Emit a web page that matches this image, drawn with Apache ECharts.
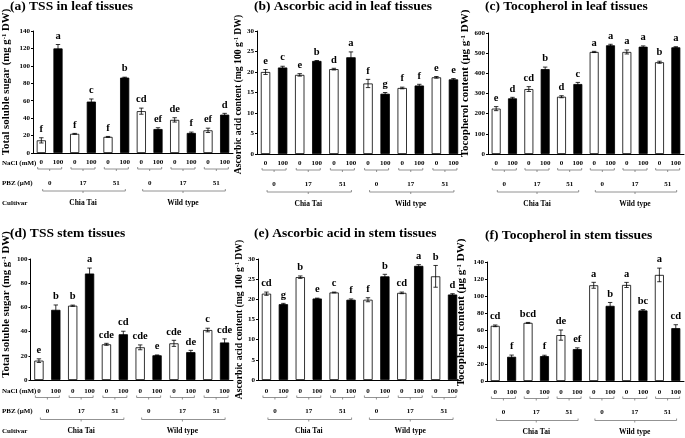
<!DOCTYPE html>
<html><head><meta charset="utf-8">
<script src="https://cdn.jsdelivr.net/npm/echarts@6/dist/echarts.min.js"></script>
<style>html,body{margin:0;padding:0;background:#fff}#c{width:685px;height:438px}</style>
</head><body><div id="c"></div>
<script>
// ---- data ----
const naclLabels = ['0','100','0','100','0','100','0','100','0','100','0','100'];
const pbzLabels = ['0','17','51','0','17','51'];
const cultivars = ['Chia Tai','Wild type'];
const titles = ['(a) TSS in leaf tissues','(b) Ascorbic acid in leaf tissues','(c) Tocopherol in leaf tissues',
                '(d) TSS stem tissues','(e) Ascorbic acid in stem tissues','(f) Tocopherol in stem tissues'];
const yNames = ['Total soluble sugar (mg g{s|-1} DW)','Ascorbic acid content (mg 100 g{s|-1} DW)','Tocopherol content (µg g{s|-1} DW)',
                'Total soluble sugar (mg g{s|-1} DW)','Ascorbic acid content (mg 100 g{s|-1} DW)','Tocopherol content (µg g{s|-1} DW)'];
const yMax = [140, 30, 600, 100, 30, 140];
const yStep = [20, 5, 100, 20, 5, 20];

// order: Chia Tai PBZ0 (NaCl0, NaCl100), PBZ17, PBZ51, Wild type PBZ0, PBZ17, PBZ51
const tssLeaf     = [14.5, 120, 22, 59, 18.5, 86.5, 48, 27.5, 38, 23, 26, 44];
const tssLeafErr  = [3, 4.5, 0.5, 3, 0.5, 0.5, 3.5, 1.5, 2.5, 1, 2.5, 1.5];
const tssLeafLet  = ['f','a','f','c','f','b','cd','ef','de','f','ef','d'];

const ascLeaf     = [20.0, 21.1, 19.3, 22.7, 20.7, 23.6, 17.2, 14.7, 16.1, 16.7, 18.7, 18.2];
const ascLeafErr  = [0.6, 0.3, 0.3, 0.1, 0.2, 1.3, 1.0, 0.3, 0.2, 0.3, 0.2, 0.2];
const ascLeafLet  = ['e','c','e','b','d','a','f','g','f','f','e','e'];

const tocLeaf     = [225, 276, 322, 421, 284, 347, 506, 539, 506, 532, 455, 529];
const tocLeafErr  = [10, 5, 12, 10, 5, 8, 3, 5, 10, 4, 5, 3];
const tocLeafLet  = ['e','d','cd','b','d','c','a','a','a','a','b','a'];

const tssStem     = [16, 58, 61.4, 88, 29.5, 37.8, 27, 20.4, 30.3, 23, 41.3, 31];
const tssStemErr  = [1.5, 4, 0.5, 4.5, 0.8, 2.5, 2, 0.3, 2.5, 1.5, 1.5, 3];
const tssStemLet  = ['e','b','b','a','cde','cd','cde','e','cde','de','c','cde'];

const ascStem     = [21.4, 18.8, 25.5, 20.2, 21.7, 19.9, 19.9, 25.7, 21.6, 28.3, 25.7, 21.2];
const ascStemErr  = [0.4, 0.2, 0.3, 0.1, 0.1, 0.2, 0.5, 0.5, 0.2, 0.3, 2.7, 0.2];
const ascStemLet  = ['cd','g','b','e','c','f','f','b','cd','a','b','d'];

const tocStem     = [64.9, 28.5, 68.4, 29.3, 54, 37.5, 112.6, 88.4, 113, 83, 124.8, 62.2];
const tocStemErr  = [1, 2, 0.5, 1, 6, 1.5, 3.5, 4, 3, 1, 8, 4];
const tocStemLet  = ['cd','f','bcd','f','de','ef','a','b','a','bc','a','cd'];

const values  = [tssLeaf, ascLeaf, tocLeaf, tssStem, ascStem, tocStem];
const errs    = [tssLeafErr, ascLeafErr, tocLeafErr, tssStemErr, ascStemErr, tocStemErr];
const letters = [tssLeafLet, ascLeafLet, tocLeafLet, tssStemLet, ascStemLet, tocStemLet];

// ---- layout ----
const grids = [
  {left: 33, top: 31, width: 200, height: 122},
  {left: 257, top: 31, width: 205, height: 123},
  {left: 488, top: 33, width: 196, height: 121},
  {left: 30, top: 259, width: 203, height: 121},
  {left: 258, top: 259, width: 203, height: 121},
  {left: 487, top: 262, width: 197, height: 119}
];
const nameFs   = [10.8, 9.7, 11, 10.8, 9.7, 11];
const nameGaps = [21, 14, 17, 18.5, 14, 20.5];
const nameShift = [20, -4, 20, 30, 0, 18];
const titlePos = [{l:10,t:0},{l:254,t:0},{l:485,t:0},{l:10,t:227},{l:254,t:227},{l:485,t:229}];
const FF = '"Liberation Serif","Times New Roman",serif';

const option = {
  backgroundColor: '#fff',
  animation: false,
  title: titles.map((t,i)=>({text:t, left:titlePos[i].l, top:titlePos[i].t, padding:0,
    textStyle:{fontFamily:FF, fontWeight:'bold', fontSize:13.5, color:'#000'}})),
  grid: grids,
  xAxis: grids.map((g,i)=>({gridIndex:i, type:'category', data:naclLabels,
    axisLine:{lineStyle:{color:'#000', width:1}}, axisTick:{show:false},
    axisLabel:{interval:0, margin: i<3?6:8, fontFamily:FF, fontWeight:'bold', fontSize:7, color:'#000'}})),
  yAxis: grids.map((g,i)=>({gridIndex:i, type:'value', min:0, max:yMax[i], interval:yStep[i],
    name: yNames[i], nameLocation:'middle', nameGap:nameGaps[i],
    nameTextStyle:{fontFamily:FF, fontWeight:'bold', fontSize:nameFs[i], color:'#000',
      padding: nameShift[i] >= 0 ? [0,0,0,nameShift[i]] : [0,-nameShift[i],0,0],
      rich:{s:{fontFamily:FF, fontWeight:'bold', fontSize:nameFs[i]*0.62, verticalAlign:'top', color:'#000'}}},
    axisLine:{show:true, lineStyle:{color:'#000', width:1}},
    axisTick:{show:true, length:2, lineStyle:{color:'#000'}},
    splitLine:{show:false},
    axisLabel:{margin:3, fontFamily:FF, fontWeight:'bold', fontSize:7, color:'#000'}})),
  series: []
};

function errRender(gi){
  return function(params, api){
    const x = api.value(0), v = api.value(1), e = api.value(2);
    const top = api.coord([x, v+e]), bot = api.coord([x, Math.max(0, v-e)]);
    const w = 2.2;
    const st = {stroke:'#000', lineWidth:0.8};
    return {type:'group', children:[
      {type:'line', shape:{x1:top[0], y1:top[1], x2:bot[0], y2:bot[1]}, style:st},
      {type:'line', shape:{x1:top[0]-w, y1:top[1], x2:top[0]+w, y2:top[1]}, style:st},
      {type:'line', shape:{x1:bot[0]-w, y1:bot[1], x2:bot[0]+w, y2:bot[1]}, style:st},
      {type:'text', style:{text:letters[gi][params.dataIndex], x:top[0], y:top[1]-3,
        align:'center', verticalAlign:'bottom', font:'bold 10.5px ' + FF, fill:'#000'}}
    ]};
  };
}

function annotRender(gi){
  const bottomRow = gi >= 3;
  const d = bottomRow ? 1.5 : 0;
  return function(params, api){
    const g = params.dataIndex;
    const a = api.coord([2*g, 0]), b = api.coord([2*g+1, 0]);
    const cx = (a[0]+b[0])/2, y0 = a[1];
    const st = {stroke:'#777', lineWidth:0.8, fill:null};
    const ch = [];
    const yb = y0 + 16 + d;
    ch.push({type:'polyline', shape:{points:[[cx-12, yb-2],[cx-12, yb],[cx+12, yb],[cx+12, yb-2]]}, style:st});
    ch.push({type:'line', shape:{x1:cx, y1:yb, x2:cx, y2:yb+2}, style:st});
    ch.push({type:'text', style:{text:pbzLabels[g], x:cx, y:y0+30+d, align:'center', verticalAlign:'middle',
      font:'bold 7px ' + FF, fill:'#000'}});
    if (g % 3 === 0) {
      const e = api.coord([2*g+4, 0]), f = api.coord([2*g+5, 0]);
      const c2a = api.coord([2*g+2, 0]), c2b = api.coord([2*g+3, 0]);
      const x1 = (a[0]+b[0])/2 - 7, x2 = (e[0]+f[0])/2 + 9, mid = (c2a[0]+c2b[0])/2;
      const yB = y0 + 38 + d;
      ch.push({type:'polyline', shape:{points:[[x1, yB-2],[x1, yB],[x2, yB],[x2, yB-2]]}, style:st});
      ch.push({type:'line', shape:{x1:mid, y1:yB, x2:mid, y2:yB+2}, style:st});
      ch.push({type:'text', style:{text:cultivars[g/3], x:mid, y:y0+50+d, align:'center', verticalAlign:'middle',
        font:'bold 7.5px ' + FF, fill:'#000'}});
    }
    if (g === 0 && (gi === 0 || gi === 3)) {
      const tf = 'bold 7px ' + FF;
      ch.push({type:'text', style:{text:'NaCl (mM)', x:2, y:y0+10+d, align:'left', verticalAlign:'middle', font:tf, fill:'#000'}});
      ch.push({type:'text', style:{text:'PBZ (µM)', x:2, y:y0+30+d, align:'left', verticalAlign:'middle', font:tf, fill:'#000'}});
      ch.push({type:'text', style:{text:'Cultivar', x:2, y:y0+50+d, align:'left', verticalAlign:'middle', font:tf, fill:'#000'}});
    }
    return {type:'group', children:ch};
  };
}

for (let i = 0; i < 6; i++) {
  option.series.push({
    type:'bar', xAxisIndex:i, yAxisIndex:i, barWidth:'55%',
    data: values[i].map((v,k)=>({value:v, itemStyle:{color: k%2 ? '#000' : '#fff'}})),
    itemStyle:{borderColor:'#000', borderWidth:0.8}
  });
  option.series.push({
    type:'custom', xAxisIndex:i, yAxisIndex:i, z:5, clip:false,
    renderItem: errRender(i), encode:{x:0, y:1},
    data: values[i].map((v,k)=>[k, v, errs[i][k]])
  });
  option.series.push({
    type:'custom', xAxisIndex:i, yAxisIndex:i, z:5, clip:false, silent:true,
    renderItem: annotRender(i), encode:{x:0, y:1},
    data: pbzLabels.map((p,g)=>[2*g, 0])
  });
}

const chart = echarts.init(document.getElementById('c'), null, {renderer:'canvas'});
chart.setOption(option);
</script></body></html>
